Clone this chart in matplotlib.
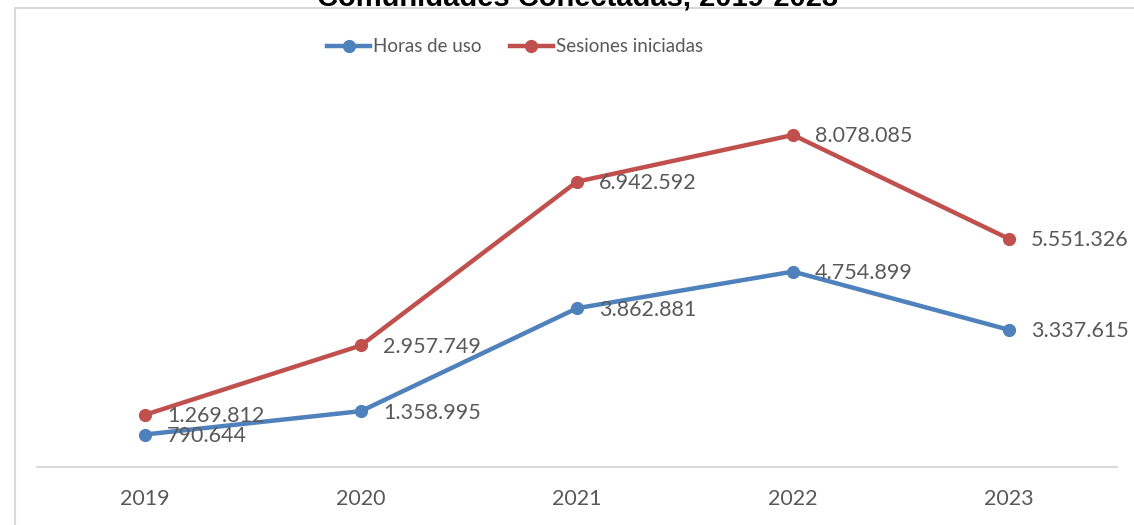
import numpy as np
import matplotlib.pyplot as plt
from matplotlib.patches import Rectangle
from matplotlib.lines import Line2D

years = ['2019', '2020', '2021', '2022', '2023']
horas = [790644, 1358995, 3862881, 4754899, 3337615]
sesiones = [1269812, 2957749, 6942592, 8078085, 5551326]
title = 'Comunidades Conectadas, 2019-2023'
series_names = ['Horas de uso', 'Sesiones iniciadas']

def fmt(v):
    return f'{v:,}'.replace(',', '.')

blue = '#4F81BD'
red = '#C0504D'
grey = '#595959'

plt.rcParams['font.family'] = ['Lato', 'DejaVu Sans']

fig = plt.figure(figsize=(11.34, 5.25), dpi=100)
W, H = 1134, 525

# chart border (clipped at right and bottom)
fig.patches.append(Rectangle((15 / W, -0.1), 1.2, 1 - 8 / H + 0.1, transform=fig.transFigure,
                             fill=False, edgecolor='#D9D9D9', lw=1.5))

ax = fig.add_axes([37 / W, 1 - 467 / H, (1117 - 37) / W, (467 - 56) / H])
x = np.arange(len(years))
ax.plot(x, horas, color=blue, lw=3.2, marker='o', ms=8.5, solid_capstyle='round', zorder=3)
ax.plot(x, sesiones, color=red, lw=3.2, marker='o', ms=8.5, solid_capstyle='round', zorder=3)

for xi, v in zip(x, horas):
    ax.annotate(fmt(v), (xi, v), xytext=(16, -1), textcoords='offset points',
                va='center', ha='left', fontsize=15.5, color=grey)
for xi, v in zip(x, sesiones):
    ax.annotate(fmt(v), (xi, v), xytext=(16, -1), textcoords='offset points',
                va='center', ha='left', fontsize=15.5, color=grey)

ax.set_xlim(-0.5, 4.5)
ax.set_ylim(0, 10000000)
ax.set_xticks(x)
ax.set_xticklabels(years, fontsize=15.5, color=grey)
ax.tick_params(axis='x', length=0, pad=16)
ax.set_yticks([])
for s in ['top', 'right', 'left']:
    ax.spines[s].set_visible(False)
ax.spines['bottom'].set_color('#D9D9D9')
ax.spines['bottom'].set_linewidth(1.5)

fig.text(578 / W, 1 - 6 / H, title, ha='center', va='baseline', fontsize=21,
         fontweight='bold', family=['Liberation Sans', 'DejaVu Sans'])

handles = [Line2D([], [], color=blue, lw=3.2, marker='o', ms=8.5),
           Line2D([], [], color=red, lw=3.2, marker='o', ms=8.5)]
fig.legend(handles, series_names, loc='center',
           bbox_to_anchor=(515 / W, 1 - 47 / H), ncol=2, frameon=False,
           fontsize=13.5, labelcolor=grey,
           handlelength=2.3, handletextpad=0.15, columnspacing=1.5)

fig.savefig('out.png', dpi=100)
